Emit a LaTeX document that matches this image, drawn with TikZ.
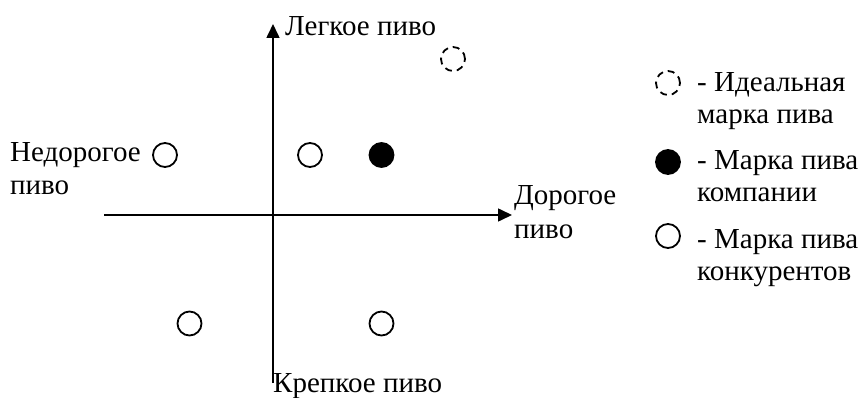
\documentclass[tikz,border=0pt]{standalone}
\usepackage{fontspec}
\setmainfont{Liberation Serif}
\usetikzlibrary{arrows.meta}
\tikzset{
  lbl/.style={anchor=base west, inner sep=0pt, font=\fontsize{29}{33}\selectfont},
  brand/.style={circle, draw, line width=1.8pt, minimum size=24pt, inner sep=0pt},
  ideal/.style={brand, dash pattern=on 7pt off 5pt},
  own/.style={brand, fill=black},
  axis/.style={line width=1.6pt, -{Triangle[length=14pt,width=13pt]}}
}
\begin{document}
\begin{tikzpicture}[x=1pt,y=-1pt]
\useasboundingbox (0,0) rectangle (862,398);
% axes
\coordinate (vb) at (273,383);
\coordinate (vt) at (273,24);
\coordinate (hl) at (104,215);
\coordinate (hr) at (512,215);
\draw[axis] (vb) -- (vt);
\draw[axis] (hl) -- (hr);
% axis labels
\node[lbl] (light) at (285,36) {Легкое пиво};
\node[lbl] (strong) at (273,392) {Крепкое пиво};
\node[lbl] (cheap1) at (10,162) {Недорогое};
\node[lbl] (cheap2) at (10,195) {пиво};
\node[lbl] (exp1) at (514,205) {Дорогое};
\node[lbl] (exp2) at (514,238) {пиво};
% brands
\node[ideal] (b1) at (453,59) {};
\node[brand] (b2) at (165,155) {};
\node[brand] (b3) at (310,155) {};
\node[own] (b4) at (381.5,155) {};
\node[brand] (b5) at (189.5,323.5) {};
\node[brand] (b6) at (381.5,323.5) {};
% legend
\node[ideal] (l1) at (668,83) {};
\node[own] (l2) at (668,162) {};
\node[brand] (l3) at (668,236) {};
\node[lbl] (t1a) at (697,92) {- Идеальная};
\node[lbl] (t1b) at (697,124) {марка пива};
\node[lbl] (t2a) at (697,170) {- Марка пива};
\node[lbl] (t2b) at (697,202) {компании};
\node[lbl] (t3a) at (697,248) {- Марка пива};
\node[lbl] (t3b) at (697,280) {конкурентов};
\end{tikzpicture}
\end{document}
